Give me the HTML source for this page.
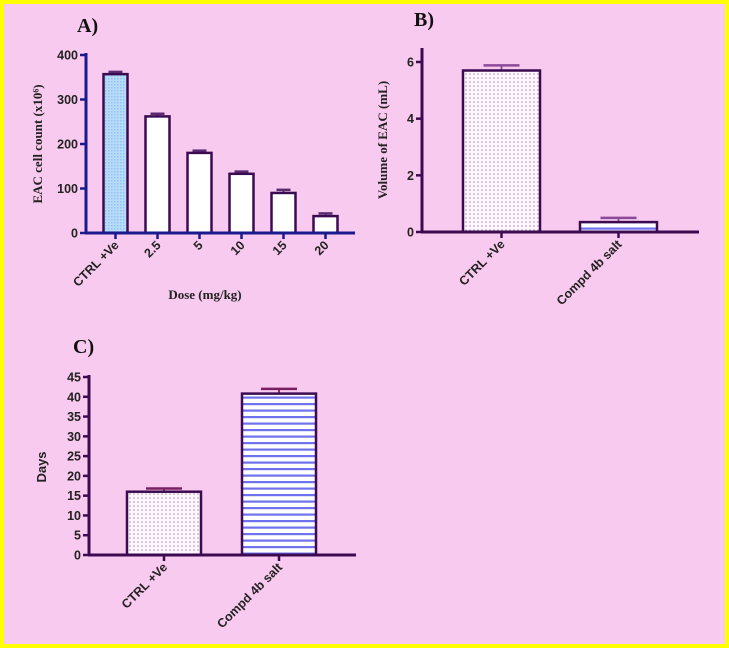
<!DOCTYPE html>
<html><head><meta charset="utf-8"><style>
html,body{margin:0;padding:0;background:#fff;}
svg{display:block;}
text{font-family:"Liberation Sans",Arial,sans-serif;font-weight:bold;}
.serif{font-family:"Liberation Serif","Times New Roman",serif;}
</style></head><body>
<svg id="fig" width="729" height="649" viewBox="0 0 729 649" xmlns="http://www.w3.org/2000/svg">
<defs>
<pattern id="dots" width="4" height="4" patternUnits="userSpaceOnUse"><rect width="4" height="4" fill="#fdf6fc"/><circle cx="2" cy="2" r="0.75" fill="#a888b8"/></pattern>
<pattern id="check" width="3" height="3" patternUnits="userSpaceOnUse"><rect width="3" height="3" fill="#b8dcf8"/><rect width="1.5" height="1.5" fill="#8ec4f0"/></pattern>
<pattern id="hlines" width="6" height="6.5" patternUnits="userSpaceOnUse"><rect width="6" height="6.5" fill="#fff"/><rect y="0" width="6" height="2.2" fill="#6e72ee"/></pattern>
</defs>
<rect x="2" y="2" width="725" height="644" fill="#f9caef" stroke="#ffff00" stroke-width="4"/>
<g id="gA"></g>
<g id="gB"></g>
<g id="gC"></g>
</svg>
<script>
const catsA = ["CTRL +Ve","2.5","5","10","15","20"];
const valsA = [357,262,180,133,90,38];
const errsA = [5,6,5,5,7,6];
const ticksA = [0,100,200,300,400];
const catsB = ["CTRL +Ve","Compd 4b salt"];
const valsB = [5.7,0.35];
const errsB = [0.18,0.15];
const ticksB = [0,2,4,6];
const catsC = ["CTRL +Ve","Compd 4b salt"];
const valsC = [16,40.8];
const errsC = [0.8,1.2];
const ticksC = [0,5,10,15,20,25,30,35,40,45];

const NS="http://www.w3.org/2000/svg";
function mk(parent,tag,attrs,txt){const e=document.createElementNS(NS,tag);for(const k in attrs)e.setAttribute(k,attrs[k]);if(txt!==undefined)e.textContent=txt;parent.appendChild(e);return e;}

function panel(g,cfg){
  const y=v=>cfg.y0-(v-cfg.vmin)/(cfg.vmax-cfg.vmin)*(cfg.y0-cfg.yTop);
  cfg.vals.forEach((v,i)=>{
    const cx=cfg.xStart+i*cfg.step;
    const bx=cx-cfg.bw/2, by=y(v);
    const eTop=y(v+cfg.errs[i]);
    const el=mk(g,'line',{x1:cx,y1:by,x2:cx,y2:eTop,stroke:cfg.errColor,'stroke-width':1.8});
    
    
    const cap=mk(g,'line',{x1:cx-cfg.cap,y1:eTop,x2:cx+cfg.cap,y2:eTop,stroke:cfg.errColor,'stroke-width':2.5});
    
    
    const r=mk(g,'rect',{x:bx,y:by,width:cfg.bw,height:cfg.y0-by,fill:cfg.fills[i],stroke:'#3c0a50','stroke-width':2.5});
    
    
    const tk=mk(g,'line',{x1:cx,y1:cfg.y0,x2:cx,y2:cfg.y0+6,stroke:cfg.axis,'stroke-width':2.5});
    
    
    const lx=cx+4, ly=cfg.y0+13;
    const t=mk(g,'text',{x:lx,y:ly,'font-size':cfg.fs,fill:'#222','text-anchor':'end',transform:`rotate(-45 ${lx} ${ly})`},cfg.cats[i]);
    
    
  });
  const ya=mk(g,'line',{x1:cfg.x0,y1:cfg.yAxisTop,x2:cfg.x0,y2:cfg.y0+1,stroke:cfg.axis,'stroke-width':3});
  
  
  const xa=mk(g,'line',{x1:cfg.x0-1,y1:cfg.y0,x2:cfg.xEnd,y2:cfg.y0,stroke:cfg.axis,'stroke-width':3});
  
  
  cfg.ticks.forEach(v=>{
    const yy=y(v);
    const tk=mk(g,'line',{x1:cfg.x0-6,y1:yy,x2:cfg.x0,y2:yy,stroke:cfg.axis,'stroke-width':2.5});
    
    
    const t=mk(g,'text',{x:cfg.x0-8,y:yy+4.5,'font-size':cfg.fs,fill:'#222','text-anchor':'end'},String(v));
    
    
  });
  const yt=mk(g,'text',{x:cfg.ytX,y:cfg.ytY,'font-size':cfg.ytFs,fill:'#222','text-anchor':'middle',transform:`rotate(-90 ${cfg.ytX} ${cfg.ytY})`,class:cfg.ytSerif?'serif':''},cfg.ytitle);
  
  
  const pt=mk(g,'text',{x:cfg.tX,y:cfg.tY,'font-size':20,fill:'#111',class:'serif'},cfg.title);
  
  
  return y;
}

const gA=document.getElementById('gA');
panel(gA,{cats:catsA,vals:valsA,errs:errsA,ticks:ticksA,vmin:0,vmax:400,y0:233,yTop:55,yAxisTop:53,x0:86,xEnd:355,xStart:115.5,step:42,bw:24,cap:7,
  fills:['url(#check)','#fff','#fff','#fff','#fff','#fff'],axis:'#1a1a8c',errColor:'#5a2a70',fs:12.5,
  ytitle:'EAC cell count (x10⁶)',ytX:42,ytY:144,ytFs:13,ytSerif:true,title:'A)',tX:77,tY:32});
const xlab=mk(gA,'text',{x:205,y:299,'font-size':13,fill:'#222','text-anchor':'middle',class:'serif'},'Dose (mg/kg)');



panel(document.getElementById('gB'),{cats:catsB,vals:valsB,errs:errsB,ticks:ticksB,vmin:0,vmax:6,y0:232,yTop:62,yAxisTop:48,x0:422,xEnd:699,xStart:501.5,step:117,bw:77,cap:18,
  fills:['url(#dots)','url(#hlines)'],axis:'#3c0a50',errColor:'#8a4a9a',fs:12.5,
  ytitle:'Volume of EAC (mL)',ytX:387,ytY:140,ytFs:13,ytSerif:true,title:'B)',tX:414,tY:26});

panel(document.getElementById('gC'),{cats:catsC,vals:valsC,errs:errsC,ticks:ticksC,vmin:0,vmax:45,y0:555,yTop:377,yAxisTop:375,x0:89,xEnd:356,xStart:164,step:115,bw:74,cap:18,
  fills:['url(#dots)','url(#hlines)'],axis:'#3c0a50',errColor:'#7a2060',fs:12.5,
  ytitle:'Days',ytX:46,ytY:467,ytFs:13,ytSerif:false,title:'C)',tX:73,tY:353});
</script>
</body></html>
